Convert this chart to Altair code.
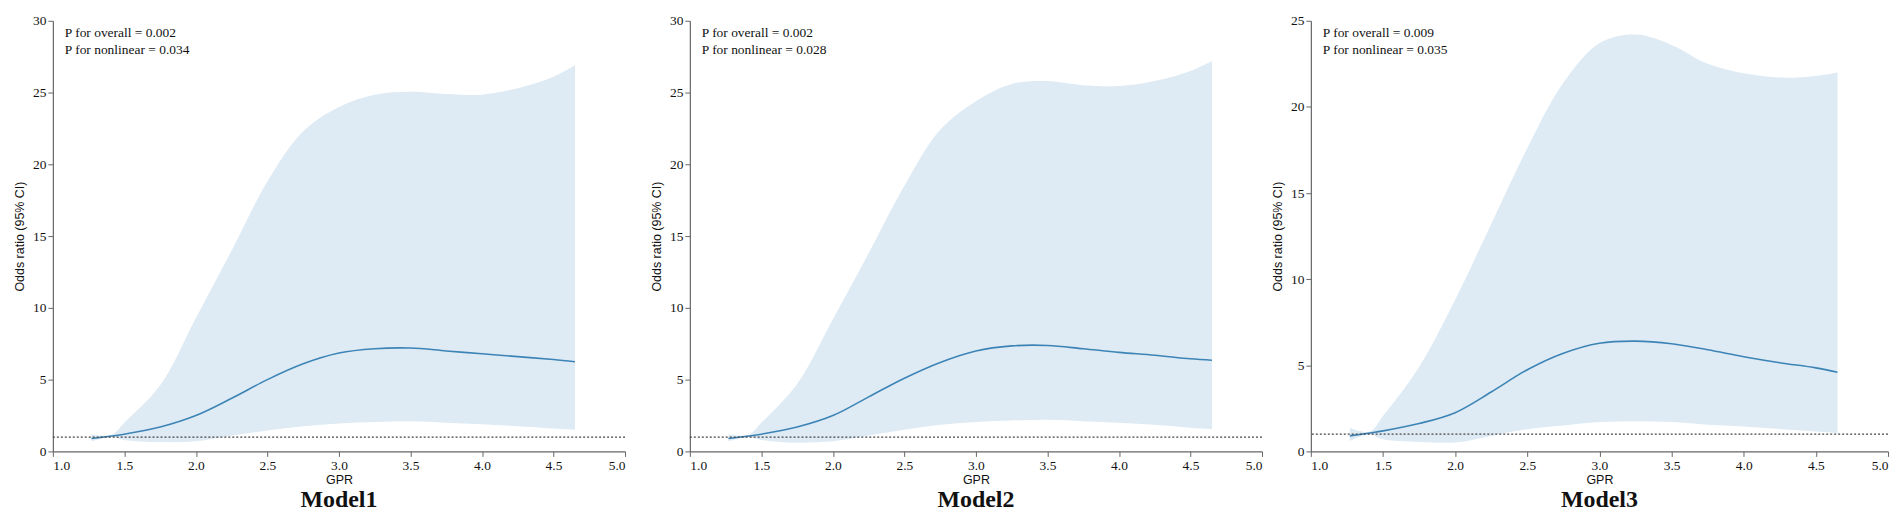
import altair as alt
import pandas as pd

# ---- data ----
gpr = [1.27, 1.41, 1.5, 1.75, 2.0, 2.25, 2.5, 2.75, 3.0, 3.25, 3.5, 3.75, 4.0, 4.25, 4.5, 4.65]

or1 = [0.9, 1.07, 1.2, 1.7, 2.5, 3.7, 5.0, 6.1, 6.85, 7.15, 7.2, 7.0, 6.8, 6.6, 6.4, 6.25]
hi1 = [1.2, 1.15, 2.0, 4.6, 9.3, 14.0, 18.8, 22.3, 24.0, 24.85, 25.05, 24.9, 24.85, 25.3, 26.1, 26.9]
lo1 = [0.7, 1.0, 0.8, 0.65, 0.7, 1.1, 1.45, 1.75, 1.95, 2.05, 2.1, 2.0, 1.9, 1.75, 1.6, 1.5]

or2 = [0.9, 1.07, 1.2, 1.7, 2.5, 3.8, 5.1, 6.2, 7.0, 7.35, 7.38, 7.15, 6.9, 6.7, 6.45, 6.35]
hi2 = [1.2, 1.15, 2.0, 4.7, 9.2, 13.8, 18.5, 22.4, 24.4, 25.6, 25.8, 25.5, 25.45, 25.8, 26.5, 27.2]
lo2 = [0.7, 1.0, 0.8, 0.6, 0.7, 1.1, 1.5, 1.85, 2.05, 2.15, 2.2, 2.1, 2.0, 1.85, 1.65, 1.55]

or3 = [0.9, 1.07, 1.19, 1.62, 2.25, 3.45, 4.74, 5.7, 6.28, 6.4, 6.25, 5.9, 5.5, 5.15, 4.85, 4.6]
hi3 = [1.38, 1.15, 2.05, 4.9, 8.8, 13.2, 17.6, 21.4, 23.7, 24.2, 23.6, 22.5, 21.95, 21.7, 21.8, 22.0]
lo3 = [0.61, 1.0, 0.7, 0.55, 0.52, 0.9, 1.29, 1.5, 1.7, 1.75, 1.7, 1.55, 1.45, 1.3, 1.15, 1.05]

models = ["Model1", "Model2", "Model3"]
p_overall = ["0.002", "0.002", "0.009"]
p_nonlinear = ["0.034", "0.028", "0.035"]
x_ticks = [1.0, 1.5, 2.0, 2.5, 3.0, 3.5, 4.0, 4.5, 5.0]

BAND = "#deebf4"
LINE = "#3d84b6"


def panel(mid, lo, hi, ymax, po, pn, name, w):
    df = pd.DataFrame({"GPR": gpr, "OR": mid, "lo": lo, "hi": hi})
    base = alt.Chart(df)
    xs = alt.Scale(domain=[1, 5], nice=False, zero=False)
    ys = alt.Scale(domain=[0, ymax], nice=False)
    xax = alt.Axis(values=x_ticks, format=".1f", title="GPR", titlePadding=2)
    yax = alt.Axis(values=list(range(0, ymax + 1, 5)), title="Odds ratio (95% CI)", titlePadding=6)
    band = base.mark_area(color=BAND, opacity=1, interpolate="catmull-rom").encode(
        x=alt.X("GPR:Q", scale=xs, axis=xax),
        y=alt.Y("lo:Q", scale=ys, axis=yax),
        y2="hi:Q",
    )
    line = base.mark_line(color=LINE, strokeWidth=1.6, interpolate="catmull-rom").encode(
        x="GPR:Q", y="OR:Q"
    )
    ref = alt.Chart(pd.DataFrame({"ref": [1.0]})).mark_rule(
        color="#444", strokeDash=[2, 2], strokeWidth=1.3
    ).encode(y="ref:Q")
    txt = alt.Chart(pd.DataFrame({"k": [0]})).mark_text(
        align="left", baseline="top", font="Liberation Serif", fontSize=13.5,
        lineHeight=17, color="#111"
    ).encode(
        x=alt.value(12), y=alt.value(5),
        text=alt.value([f"P for overall = {po}", f"P for nonlinear = {pn}"]),
    )
    return alt.layer(band, line, ref, txt).properties(
        width=w, height=432,
        title=alt.TitleParams(
            text=name, orient="bottom", anchor="middle", frame="group",
            font="Liberation Serif", fontSize=24, fontWeight="bold",
            color="#111", offset=2,
        ),
    )


p1 = panel(or1, lo1, hi1, 30, p_overall[0], p_nonlinear[0], models[0], 574)
p2 = panel(or2, lo2, hi2, 30, p_overall[1], p_nonlinear[1], models[1], 574)
p3 = panel(or3, lo3, hi3, 25, p_overall[2], p_nonlinear[2], models[2], 579)

chart = alt.hconcat(alt.hconcat(p1, p2, spacing=24), p3, spacing=8).configure_view(
    stroke=None
).configure_axis(
    grid=False,
    domainColor="#666",
    domainWidth=1.2,
    tickColor="#666",
    tickSize=5,
    labelFont="Liberation Serif",
    labelFontSize=13.5,
    labelColor="#111",
    labelPadding=2,
    titleFont="Liberation Sans",
    titleFontSize=12.5,
    titleFontWeight="normal",
    titleColor="#111",
)

chart.save("out.html", embed_options={"renderer": "svg", "actions": False})
